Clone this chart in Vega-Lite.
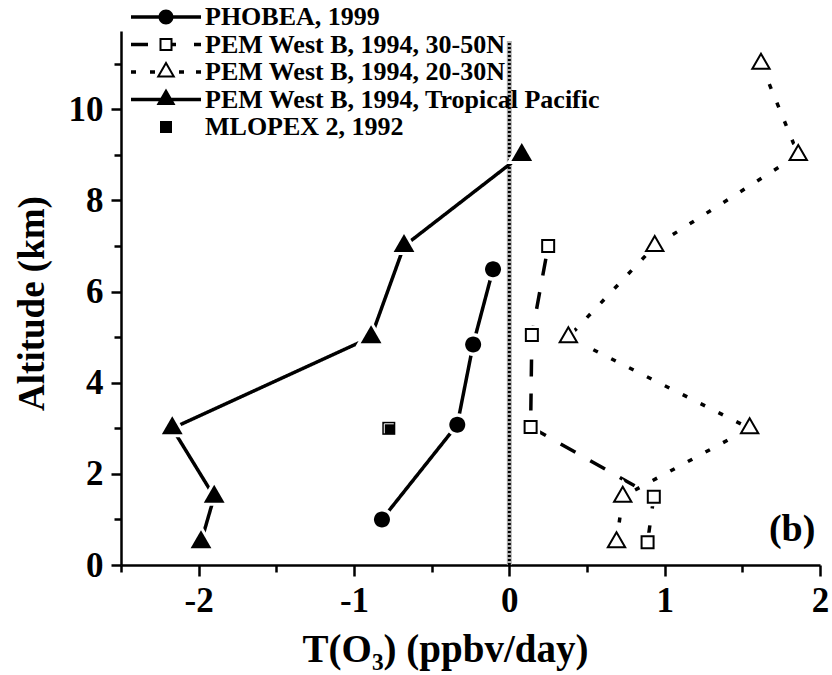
{
  "$schema": "https://vega.github.io/schema/vega-lite/v6.json",
  "width": 699,
  "height": 534,
  "autosize": {"type": "none"},
  "padding": {"left": 121, "top": 31, "right": 12, "bottom": 110},
  "background": "white",
  "config": {
    "view": {"stroke": null},
    "axis": {
      "grid": false,
      "domainColor": "black",
      "domainWidth": 2.5,
      "tickColor": "black",
      "tickWidth": 2.5,
      "labelFont": "Liberation Serif",
      "labelFontWeight": "bold",
      "labelFontSize": 35,
      "labelColor": "black",
      "labelFlush": false,
      "labelOverlap": false,
      "labelBound": false,
      "titleFont": "Liberation Serif",
      "titleFontWeight": "bold",
      "titleColor": "black"
    },
    "legend": {
      "labelFont": "Liberation Serif",
      "labelFontWeight": "bold",
      "labelFontSize": 26,
      "labelColor": "black",
      "labelLimit": 0,
      "padding": 0,
      "rowPadding": 1.5
    }
  },
  "data": {
    "values": [
      {"series": "PHOBEA, 1999", "rate": -0.82, "alt": 1.0},
      {"series": "PHOBEA, 1999", "rate": -0.335, "alt": 3.08},
      {"series": "PHOBEA, 1999", "rate": -0.233, "alt": 4.84},
      {"series": "PHOBEA, 1999", "rate": -0.105, "alt": 6.49},
      {"series": "PEM West B, 1994, 30-50N", "rate": 0.89, "alt": 0.5},
      {"series": "PEM West B, 1994, 30-50N", "rate": 0.93, "alt": 1.5},
      {"series": "PEM West B, 1994, 30-50N", "rate": 0.137, "alt": 3.03},
      {"series": "PEM West B, 1994, 30-50N", "rate": 0.145, "alt": 5.05},
      {"series": "PEM West B, 1994, 30-50N", "rate": 0.25, "alt": 7.0},
      {"series": "PEM West B, 1994, 20-30N", "rate": 0.69, "alt": 0.5},
      {"series": "PEM West B, 1994, 20-30N", "rate": 0.73, "alt": 1.5},
      {"series": "PEM West B, 1994, 20-30N", "rate": 1.547, "alt": 3.0},
      {"series": "PEM West B, 1994, 20-30N", "rate": 0.38, "alt": 5.0},
      {"series": "PEM West B, 1994, 20-30N", "rate": 0.936, "alt": 7.0},
      {"series": "PEM West B, 1994, 20-30N", "rate": 1.86, "alt": 9.0},
      {"series": "PEM West B, 1994, 20-30N", "rate": 1.62, "alt": 11.0},
      {"series": "PEM West B, 1994, Tropical Pacific", "rate": -1.985, "alt": 0.5},
      {"series": "PEM West B, 1994, Tropical Pacific", "rate": -1.9, "alt": 1.5},
      {"series": "PEM West B, 1994, Tropical Pacific", "rate": -2.17, "alt": 3.0},
      {"series": "PEM West B, 1994, Tropical Pacific", "rate": -0.89, "alt": 5.0},
      {"series": "PEM West B, 1994, Tropical Pacific", "rate": -0.678, "alt": 7.0},
      {"series": "PEM West B, 1994, Tropical Pacific", "rate": 0.08, "alt": 9.0},
      {"series": "MLOPEX 2, 1992", "rate": -0.776, "alt": 3.0}
    ]
  },
  "encoding": {
    "x": {
      "field": "rate",
      "type": "quantitative",
      "scale": {"domain": [-2.5, 2], "nice": false, "zero": false},
      "axis": {
        "values": [-2.5, -2, -1.5, -1, -0.5, 0, 0.5, 1, 1.5, 2],
        "labelExpr": "datum.value % 1 === 0 ? '' + datum.value : ''",
        "tickSize": {"condition": {"test": "datum.value % 1 === 0", "value": 11}, "value": 7},
        "labelPadding": 7,
        "title": "T(O₃) (ppbv/day)",
        "titleFontSize": 39,
        "titleX": 324,
        "titleY": 96,
        "titleAlign": "center",
        "titleBaseline": "alphabetic"
      }
    },
    "y": {
      "field": "alt",
      "type": "quantitative",
      "scale": {"domain": [0, 11.72], "nice": false, "zero": false},
      "axis": {
        "values": [0, 1, 2, 3, 4, 5, 6, 7, 8, 9, 10, 11],
        "labelExpr": "datum.value % 2 === 0 ? '' + datum.value : ''",
        "tickSize": {"condition": {"test": "datum.value % 2 === 0", "value": 10}, "value": 7},
        "labelPadding": 8,
        "title": "Altitude (km)",
        "titleFontSize": 37,
        "titleX": -78,
        "titleY": 272,
        "titleAngle": -90,
        "titleAlign": "center",
        "titleBaseline": "alphabetic"
      }
    }
  },
  "resolve": {"scale": {"shape": "independent"}},
  "layer": [
    {
      "data": {"values": [{"rate": 0, "alt": 0, "alt_top": 11.5}]},
      "mark": {"type": "rule", "stroke": "#b4b4b4", "strokeWidth": 5},
      "encoding": {"y2": {"field": "alt_top"}}
    },
    {
      "data": {"values": [{"rate": 0, "alt": 0, "alt_top": 11.5}]},
      "mark": {"type": "rule", "stroke": "black", "strokeWidth": 3, "strokeDash": [2, 2]},
      "encoding": {"y2": {"field": "alt_top"}}
    },
    {
      "mark": {"type": "line", "color": "black", "strokeWidth": 3.5, "strokeCap": "butt"},
      "encoding": {
        "order": {"field": "alt", "type": "quantitative"},
        "strokeDash": {
          "field": "series",
          "type": "nominal",
          "scale": {
            "domain": ["PHOBEA, 1999", "PEM West B, 1994, 30-50N", "PEM West B, 1994, 20-30N", "PEM West B, 1994, Tropical Pacific"],
            "range": [[1, 0], [17, 17], [5, 15], [1, 0]]
          },
          "legend": null
        }
      }
    },
    {
      "transform": [{"filter": {"field": "series", "equal": "PHOBEA, 1999"}}],
      "mark": {"type": "point", "shape": "M-0.8,0A0.8,0.8,0,1,1,0.8,0A0.8,0.8,0,1,1,-0.8,0Z", "filled": true, "fill": "white", "stroke": "white", "strokeWidth": 7, "size": 400, "opacity": 1}
    },
    {
      "transform": [{"filter": {"field": "series", "equal": "PEM West B, 1994, 30-50N"}}],
      "mark": {"type": "point", "shape": "M-0.6,-0.6H0.6V0.6H-0.6Z", "filled": true, "fill": "white", "stroke": "white", "strokeWidth": 7, "size": 400, "opacity": 1}
    },
    {
      "transform": [{"filter": {"field": "series", "oneOf": ["PEM West B, 1994, 20-30N", "PEM West B, 1994, Tropical Pacific"]}}],
      "mark": {"type": "point", "shape": "M0,-1.1L0.95,0.55L-0.95,0.55Z", "filled": true, "fill": "white", "stroke": "white", "strokeWidth": 7, "size": 400, "opacity": 1}
    },
    {
      "mark": {"type": "point", "filled": true, "color": "black", "strokeWidth": 0, "size": 400, "opacity": 1},
      "encoding": {
        "shape": {
          "field": "series",
          "type": "nominal",
          "scale": {
            "domain": ["PHOBEA, 1999", "PEM West B, 1994, 30-50N", "PEM West B, 1994, 20-30N", "PEM West B, 1994, Tropical Pacific", "MLOPEX 2, 1992"],
            "range": [
              "M-0.8,0A0.8,0.8,0,1,1,0.8,0A0.8,0.8,0,1,1,-0.8,0Z",
              "M-0.7,-0.7H0.7V0.7H-0.7Z M-0.5,-0.5V0.5H0.5V-0.5Z",
              "M0,-1.2L1.04,0.6L-1.04,0.6Z M0,-0.8L-0.693,0.4L0.693,0.4Z",
              "M0,-1.2L1.04,0.6L-1.04,0.6Z",
              "M-0.65,-0.65H0.65V0.65H-0.65Z"
            ]
          },
          "legend": null
        }
      }
    },
    {
      "transform": [{"filter": {"field": "series", "equal": "MLOPEX 2, 1992"}}],
      "mark": {"type": "point", "filled": false, "shape": "M-0.45,0.5V-0.45H0.5", "stroke": "white", "strokeWidth": 1, "size": 400, "opacity": 1}
    },
    {
      "transform": [{"filter": "false"}],
      "mark": {"type": "point", "filled": true, "color": "black", "strokeWidth": 0, "size": 400, "opacity": 1},
      "encoding": {
        "shape": {
          "field": "series",
          "type": "nominal",
          "scale": {
            "domain": ["PHOBEA, 1999", "PEM West B, 1994, 30-50N", "PEM West B, 1994, 20-30N", "PEM West B, 1994, Tropical Pacific", "MLOPEX 2, 1992"],
            "range": [
              "M-3.5,-0.175H3.5V0.175H-3.5Z M-0.75,0A0.75,0.75,0,1,1,0.75,0A0.75,0.75,0,1,1,-0.75,0Z",
              "M-3.5,-0.175H-1.8V0.175H-3.5Z M-0.65,-0.65H0.65V0.65H-0.65Z M-0.45,-0.45V0.45H0.45V-0.45Z M0.65,-0.175H1.0V0.175H0.65Z M2.8,-0.175H3.5V0.175H2.8Z",
              "M-3.5,-0.175H-3.0V0.175H-3.5Z M-1.6,-0.175H-1.1V0.175H-1.6Z M0,-1.1L0.95,0.55L-0.95,0.55Z M0,-0.7L-0.604,0.35L0.604,0.35Z M1.3,-0.175H1.8V0.175H1.3Z M3.0,-0.175H3.5V0.175H3.0Z",
              "M-3.5,-0.175H3.5V0.175H-3.5Z M0,-1.1L0.95,0.55L-0.95,0.55Z",
              "M-0.6,-0.6H0.6V0.6H-0.6Z"
            ]
          },
          "legend": {
            "orient": "none",
            "legendX": 32,
            "legendY": -27,
            "title": null,
            "symbolSize": 400,
            "symbolFillColor": "black",
            "symbolStrokeWidth": 0,
            "labelOffset": 26
          }
        }
      }
    },
    {
      "data": {"values": [{"rate": 1.97, "alt": 0.52, "label": "(b)"}]},
      "mark": {"type": "text", "font": "Liberation Serif", "fontWeight": "bold", "fontSize": 38, "align": "right", "baseline": "alphabetic", "color": "black"},
      "encoding": {"text": {"field": "label"}}
    }
  ]
}
